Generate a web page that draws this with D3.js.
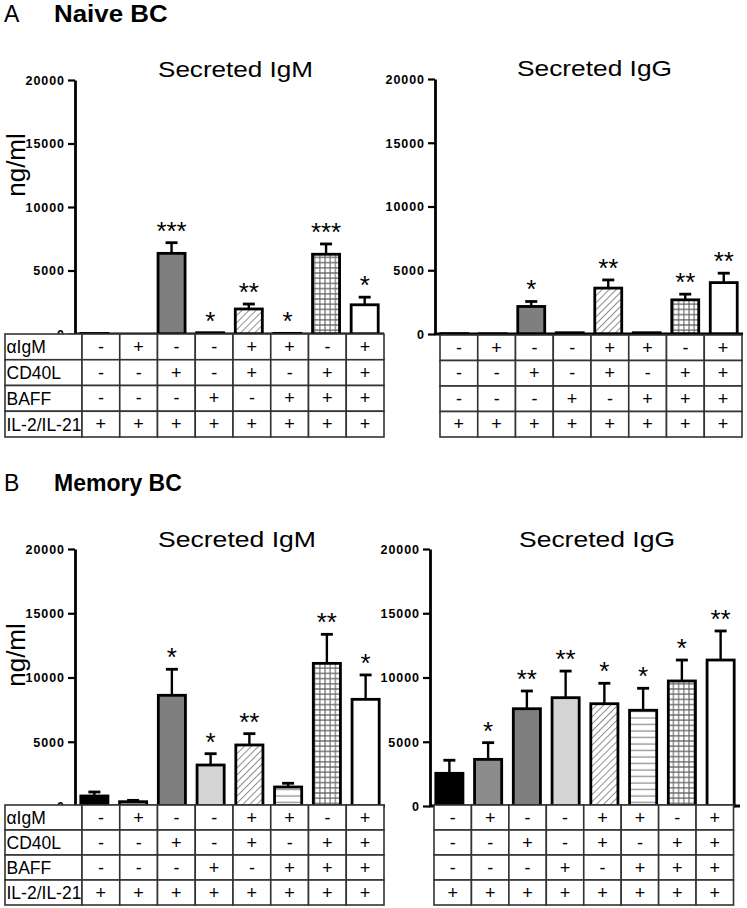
<!DOCTYPE html>
<html><head><meta charset="utf-8">
<script src="https://cdn.jsdelivr.net/npm/d3@7"></script>
<style>body{margin:0;background:#fff}svg{display:block}</style>
</head><body>
<script>
// ---------- DATA ----------
const groups = ["c1","c2","c3","c4","c5","c6","c7","c8"];
const conditions = ["\u03B1IgM","CD40L","BAFF","IL-2/IL-21"];
const signsIgM_anti = ["-","+","-","-","+","+","-","+"];
const signsCD40L    = ["-","-","+","-","+","-","+","+"];
const signsBAFF     = ["-","-","-","+","-","+","+","+"];
const signsIL       = ["+","+","+","+","+","+","+","+"];
const yTicks = [0,5000,10000,15000,20000];

const naiveIgM      = [40, 0, 6350, 100, 1970, 50, 6280, 2300];
const naiveIgMSem   = [0, 0, 840, 0, 390, 0, 810, 600];
const naiveIgMStars = ["", "", "***", "*", "**", "*", "***", "*"];

const naiveIgG      = [30, 20, 2160, 100, 3600, 100, 2680, 4030];
const naiveIgGSem   = [0, 0, 390, 0, 640, 0, 445, 740];
const naiveIgGStars = ["", "", "*", "", "**", "", "**", "**"];

const memIgM      = [780, 335, 8615, 3190, 4750, 1480, 11100, 8300];
const memIgMSem   = [310, 105, 2025, 880, 880, 290, 2260, 1900];
const memIgMStars = ["", "", "*", "*", "**", "", "**", "*"];

const memIgG      = [2545, 3630, 7570, 8430, 7960, 7450, 9730, 11360];
const memIgGSem   = [1015, 1300, 1380, 2070, 1590, 1710, 1630, 2260];
const memIgGStars = ["", "*", "**", "**", "*", "*", "*", "**"];

const barFills = ["#000000","#8c8c8c","#7f7f7f","#d4d4d4","url(#hatch)","url(#hlines)","url(#grid)","#ffffff"];

// ---------- SVG ----------
const svg = d3.select("body").append("svg").attr("width",747).attr("height",908);
const defs = svg.append("defs");
const ph = defs.append("pattern").attr("id","hatch").attr("patternUnits","userSpaceOnUse")
  .attr("width",5).attr("height",5).attr("patternTransform","rotate(45)");
ph.append("rect").attr("width",5).attr("height",5).attr("fill","#fff");
ph.append("line").attr("x1",0).attr("y1",0).attr("x2",0).attr("y2",5).attr("stroke","#444").attr("stroke-width",1.2);
const pl = defs.append("pattern").attr("id","hlines").attr("patternUnits","userSpaceOnUse").attr("width",6).attr("height",6.5);
pl.append("rect").attr("width",6).attr("height",6.5).attr("fill","#fff");
pl.append("line").attr("x1",0).attr("y1",3).attr("x2",6).attr("y2",3).attr("stroke","#888").attr("stroke-width",1.2);
const pg = defs.append("pattern").attr("id","grid").attr("patternUnits","userSpaceOnUse").attr("width",5.2).attr("height",5.2);
pg.append("rect").attr("width",5.2).attr("height",5.2).attr("fill","#fff");
pg.append("path").attr("d","M0,2.6H5.2M2.6,0V5.2").attr("stroke","#666").attr("stroke-width",1.1);

const font = "Arial, 'Liberation Sans', sans-serif";

// Section headers
function header(letter, name, baseline){
  svg.append("text").attr("x",4).attr("y",baseline).attr("font-family",font).attr("font-size",23).text(letter);
  svg.append("text").attr("x",54).attr("y",baseline).attr("font-family",font).attr("font-size",23)
    .attr("font-weight","bold").attr("textLength",name.length*14.2).attr("lengthAdjust","spacingAndGlyphs").text(name);
}
header("A","Naive BC",22);
header("B","Memory BC",491);

const panels = [
  {title:"Secreted IgM", vals:naiveIgM, sem:naiveIgMSem, stars:naiveIgMStars,
   ax:75, xEnd:384, y0:334, yTop:80, tx:158, tw:155, ty:77, ylab:165,
   tab:{x0:5, lw:77, x1:384, y0:334, y1:437, labels:true}},
  {title:"Secreted IgG", vals:naiveIgG, sem:naiveIgGSem, stars:naiveIgGStars,
   ax:435, xEnd:743, y0:334, yTop:79, tx:517, tw:155, ty:76, ylab:null,
   tab:{x0:440, lw:0, x1:742, y0:335, y1:437, labels:false}},
  {title:"Secreted IgM", vals:memIgM, sem:memIgMSem, stars:memIgMStars,
   ax:75, xEnd:385, y0:806, yTop:549, tx:158, tw:158, ty:547, ylab:655,
   tab:{x0:5, lw:77, x1:384, y0:805, y1:905, labels:true}},
  {title:"Secreted IgG", vals:memIgG, sem:memIgGSem, stars:memIgGStars,
   ax:430, xEnd:740, y0:806, yTop:549, tx:519, tw:156, ty:547, ylab:null,
   tab:{x0:434, lw:0, x1:733.5, y0:805, y1:905, labels:false}}
];

const signRows = [signsIgM_anti, signsCD40L, signsBAFF, signsIL];

panels.forEach(p=>{
  const g = svg.append("g");
  const y = d3.scaleLinear().domain([0,20000]).range([p.y0,p.yTop]);
  const x = d3.scaleBand().domain(groups).range([p.ax,p.xEnd]).paddingInner(0.3).paddingOuter(0.15);

  // title
  g.append("text").attr("x",p.tx).attr("y",p.ty).attr("font-family",font).attr("font-size",22.5)
    .attr("textLength",p.tw).attr("lengthAdjust","spacingAndGlyphs").text(p.title);

  // y label
  if(p.ylab!==null){
    g.append("text").attr("transform",`translate(25,${p.ylab}) rotate(-90)`).attr("text-anchor","middle")
      .attr("font-family",font).attr("font-size",26).text("ng/ml");
  }

  // bars
  g.selectAll("rect.bar").data(p.vals).join("rect").attr("class","bar")
    .attr("x",(d,i)=>x(groups[i])).attr("width",x.bandwidth())
    .attr("y",d=>y(d)).attr("height",d=>Math.max(0,p.y0-y(d)))
    .attr("fill",(d,i)=>barFills[i]).attr("stroke","#000").attr("stroke-width",2.8);

  // error bars
  p.vals.forEach((v,i)=>{
    const s = p.sem[i];
    const cx = x(groups[i]) + x.bandwidth()/2;
    if(s>0){
      g.append("line").attr("x1",cx).attr("x2",cx).attr("y1",y(v)).attr("y2",y(v+s))
        .attr("stroke","#000").attr("stroke-width",2.4);
      g.append("line").attr("x1",cx-6).attr("x2",cx+6).attr("y1",y(v+s)).attr("y2",y(v+s))
        .attr("stroke","#000").attr("stroke-width",2.8);
    }
    if(p.stars[i]){
      g.append("text").attr("x",cx).attr("y",y(v+s)-3).attr("text-anchor","middle")
        .attr("font-family",font).attr("font-size",26).text(p.stars[i]);
    }
  });

  // y axis
  const ya = g.append("g").attr("transform",`translate(${p.ax},0)`)
    .call(d3.axisLeft(y).tickValues(yTicks).tickFormat(d3.format("d")).tickSize(7).tickSizeOuter(0).tickPadding(4));
  ya.select(".domain").attr("stroke","#000").attr("stroke-width",2.8);
  ya.selectAll(".tick line").attr("stroke","#000").attr("stroke-width",2.2);
  ya.selectAll(".tick text").attr("font-family",font).attr("font-weight","bold")
    .attr("font-size",12.5).attr("dy","0.35em").attr("fill","#000")
    .each(function(d){
      const n = String(d).length;
      if(n>1) d3.select(this).attr("textLength", n*7.7).attr("lengthAdjust","spacing");
    });

  // x axis line
  g.append("line").attr("x1",p.ax-1).attr("x2",p.xEnd).attr("y1",p.y0).attr("y2",p.y0)
    .attr("stroke","#000").attr("stroke-width",3.2);

  // condition table
  const t = p.tab;
  const cols = d3.scaleBand().domain(groups).range([t.x0+t.lw, t.x1]);
  const rows = d3.scaleBand().domain(conditions).range([t.y0, t.y1]);
  const tg = g.append("g");
  conditions.forEach((c,r)=>{
    if(t.labels){
      tg.append("rect").attr("x",t.x0).attr("y",rows(c)).attr("width",t.lw).attr("height",rows.bandwidth())
        .attr("fill","#fff").attr("stroke","#333").attr("stroke-width",1.6);
      tg.append("text").attr("x",t.x0+1.5).attr("y",rows(c)+rows.bandwidth()/2+6.5)
        .attr("font-family",font).attr("font-size",17.5).text(c);
    }
    groups.forEach((gname,k)=>{
      tg.append("rect").attr("x",cols(gname)).attr("y",rows(c)).attr("width",cols.bandwidth()).attr("height",rows.bandwidth())
        .attr("fill","#fff").attr("stroke","#333").attr("stroke-width",1.6);
      tg.append("text").attr("x",cols(gname)+cols.bandwidth()/2).attr("y",rows(c)+rows.bandwidth()/2+6)
        .attr("text-anchor","middle").attr("font-family",font).attr("font-size",18).text(signRows[r][k]);
    });
  });
});
</script>
</body></html>
